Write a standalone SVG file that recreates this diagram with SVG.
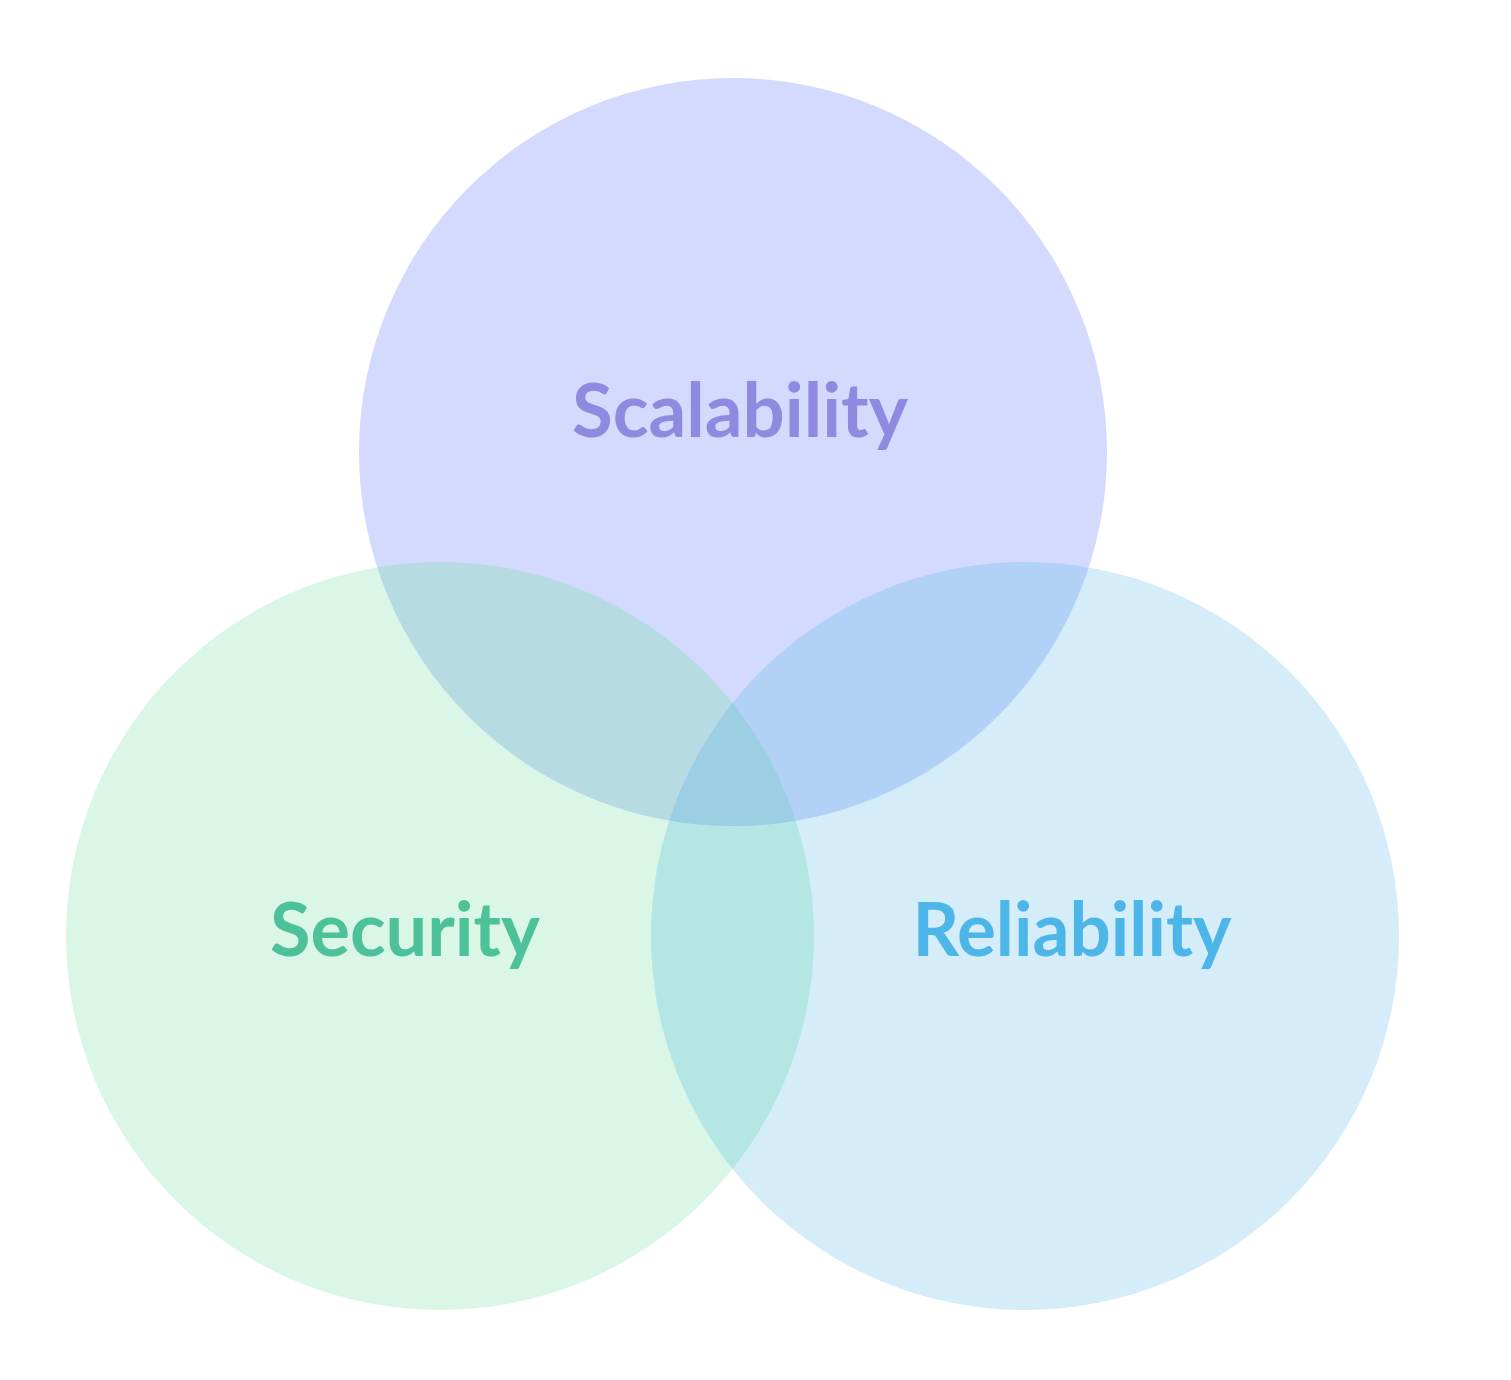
<svg xmlns="http://www.w3.org/2000/svg" width="1511" height="1380" viewBox="0 0 1511 1380">
<style>
.lbl{font-family:Lato,"Liberation Sans",sans-serif;font-weight:700;font-size:74px;text-anchor:middle}
</style>
<defs>
<clipPath id="cTop"><circle cx="733" cy="452" r="374"/></clipPath>
<clipPath id="cLeft"><circle cx="440" cy="936" r="374"/></clipPath>
<clipPath id="cRight"><circle cx="1025" cy="936" r="374"/></clipPath>
</defs>
<rect width="1511" height="1380" fill="#ffffff"/>
<g id="security">
<circle cx="440" cy="936" r="374" fill="#DAF6E6"/>
</g>
<g id="reliability">
<circle cx="1025" cy="936" r="374" fill="#D4EDF9"/>
</g>
<g id="scalability">
<circle cx="733" cy="452" r="374" fill="#D3DAFE"/>
</g>
<g id="overlaps">
<g clip-path="url(#cLeft)"><circle cx="1025" cy="936" r="374" fill="#B4E7E3"/></g>
<g clip-path="url(#cTop)"><circle cx="440" cy="936" r="374" fill="#B7DBE3"/></g>
<g clip-path="url(#cTop)"><circle cx="1025" cy="936" r="374" fill="#B1D1F7"/></g>
<g clip-path="url(#cTop)"><g clip-path="url(#cLeft)"><circle cx="1025" cy="936" r="374" fill="#9CCFE3"/></g></g>
</g>
<g id="labels">
<text class="lbl" x="740" y="437" fill="#8F8ADF" textLength="336" lengthAdjust="spacingAndGlyphs">Scalability</text>
<text class="lbl" x="405" y="956" fill="#4DC29A" textLength="270" lengthAdjust="spacingAndGlyphs">Security</text>
<text class="lbl" x="1072" y="956" fill="#4DB6E8" textLength="319" lengthAdjust="spacingAndGlyphs">Reliability</text>
</g>
<g id="connectors"/>
</svg>
